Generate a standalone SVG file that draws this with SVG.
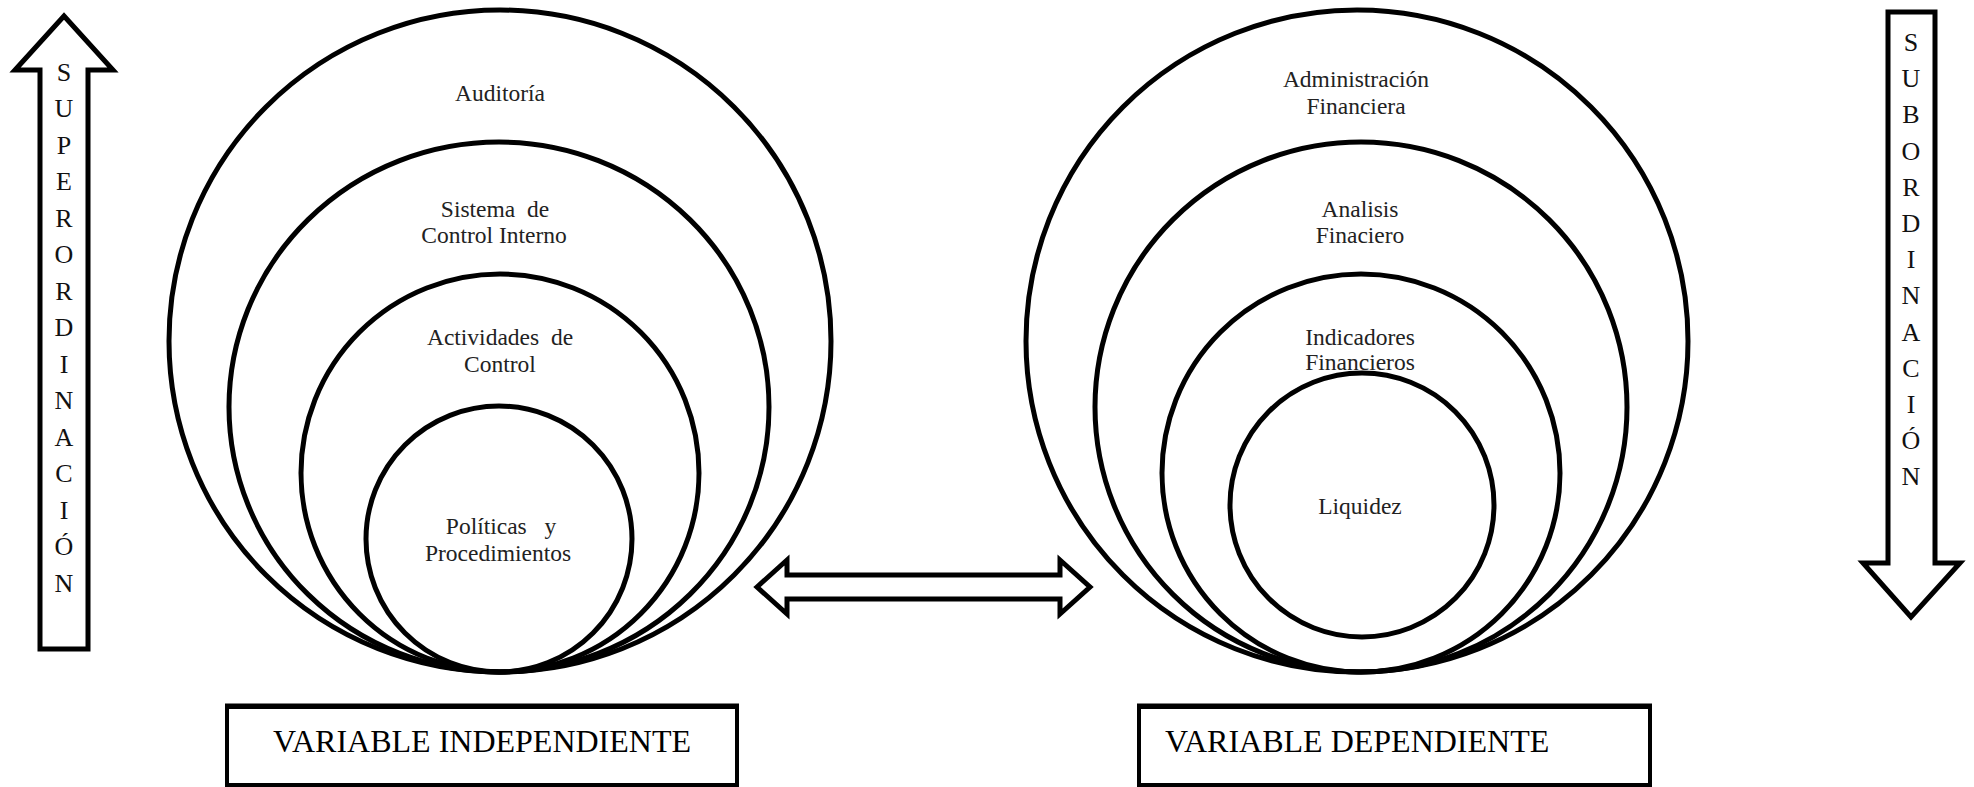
<svg xmlns="http://www.w3.org/2000/svg" width="1974" height="787" viewBox="0 0 1974 787">
<style>
.c{fill:none;stroke:#000;stroke-width:5}
.a{fill:#fff;stroke:#000;stroke-width:5;stroke-linejoin:miter}
.t{font-family:"Liberation Serif","Times New Roman",serif;font-size:23.5px;fill:#222;text-anchor:middle}
.l{font-family:"Liberation Serif","Times New Roman",serif;font-size:26px;fill:#111;text-anchor:middle}
.b{font-family:"Liberation Serif","Times New Roman",serif;font-size:32px;fill:#000}
.box{fill:#fff;stroke:#000;stroke-width:4}
</style>
<rect width="1974" height="787" fill="#fff"/>
<g id="superordinacion">
<polygon class="a" points="64,16 113,70 88,70 88,649 40,649 40,70 15,70"/>
<text class="l" x="64" y="81">S</text>
<text class="l" x="64" y="117">U</text>
<text class="l" x="64" y="154">P</text>
<text class="l" x="64" y="190">E</text>
<text class="l" x="64" y="227">R</text>
<text class="l" x="64" y="263">O</text>
<text class="l" x="64" y="300">R</text>
<text class="l" x="64" y="336">D</text>
<text class="l" x="64" y="373">I</text>
<text class="l" x="64" y="409">N</text>
<text class="l" x="64" y="446">A</text>
<text class="l" x="64" y="482">C</text>
<text class="l" x="64" y="519">I</text>
<text class="l" x="64" y="555">Ó</text>
<text class="l" x="64" y="592">N</text>
</g>
<g id="subordinacion">
<polygon class="a" points="1888,12 1935,12 1935,563 1960,563 1911,617 1863,563 1888,563"/>
<text class="l" x="1911" y="51">S</text>
<text class="l" x="1911" y="87">U</text>
<text class="l" x="1911" y="123">B</text>
<text class="l" x="1911" y="160">O</text>
<text class="l" x="1911" y="196">R</text>
<text class="l" x="1911" y="232">D</text>
<text class="l" x="1911" y="268">I</text>
<text class="l" x="1911" y="304">N</text>
<text class="l" x="1911" y="341">A</text>
<text class="l" x="1911" y="377">C</text>
<text class="l" x="1911" y="413">I</text>
<text class="l" x="1911" y="449">Ó</text>
<text class="l" x="1911" y="485">N</text>
</g>
<g id="auditoria">
<circle class="c" cx="500" cy="341" r="331"/>
<text class="t" x="500" y="101">Auditoría</text>
</g>
<g id="sistema-control-interno">
<ellipse class="c" cx="499" cy="407" rx="270" ry="265"/>
<text class="t" x="495" y="217" xml:space="preserve">Sistema  de</text>
<text class="t" x="494" y="243">Control Interno</text>
</g>
<g id="actividades-control">
<circle class="c" cx="500" cy="473" r="199"/>
<text class="t" x="500" y="345" xml:space="preserve">Actividades  de</text>
<text class="t" x="500" y="372">Control</text>
</g>
<g id="politicas-procedimientos">
<circle class="c" cx="499" cy="539" r="133"/>
<text class="t" x="501" y="534" xml:space="preserve">Políticas   y</text>
<text class="t" x="498" y="561">Procedimientos</text>
</g>
<g id="administracion-financiera">
<circle class="c" cx="1357" cy="341" r="331"/>
<text class="t" x="1356" y="87">Administración</text>
<text class="t" x="1356" y="114">Financiera</text>
</g>
<g id="analisis-financiero">
<ellipse class="c" cx="1361" cy="407" rx="266" ry="265"/>
<text class="t" x="1360" y="217">Analisis</text>
<text class="t" x="1360" y="243">Finaciero</text>
</g>
<g id="indicadores-financieros">
<circle class="c" cx="1361" cy="473" r="199"/>
<text class="t" x="1360" y="345">Indicadores</text>
<text class="t" x="1360" y="370">Financieros</text>
</g>
<g id="liquidez">
<circle class="c" cx="1362" cy="505" r="132"/>
<text class="t" x="1360" y="514">Liquidez</text>
</g>
<g id="connectors">
<polygon class="a" stroke-width="4" points="757,587 787,560 787,575 1060,575 1060,560 1090,587 1060,614 1060,599 787,599 787,614"/>
</g>
<g id="variable-independiente">
<rect class="box" x="227" y="707" width="510" height="78"/>
<line x1="225" y1="706" x2="739" y2="706" stroke="#000" stroke-width="5"/>
<text class="b" x="482" y="752" text-anchor="middle">VARIABLE INDEPENDIENTE</text>
</g>
<g id="variable-dependiente">
<rect class="box" x="1139" y="707" width="511" height="78"/>
<line x1="1137" y1="706" x2="1652" y2="706" stroke="#000" stroke-width="5"/>
<text class="b" x="1165" y="752">VARIABLE DEPENDIENTE</text>
</g>
</svg>
